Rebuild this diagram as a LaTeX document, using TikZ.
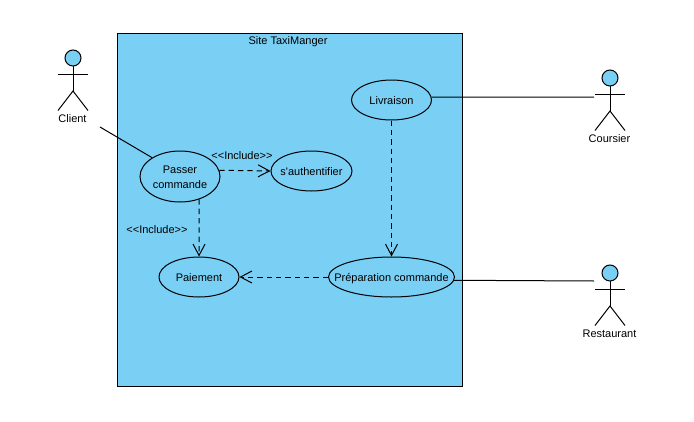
\documentclass[tikz,border=0pt]{standalone}
\usepackage{fontspec}
\setmainfont{Liberation Sans}
\usetikzlibrary{arrows.meta, shapes.geometric}
\definecolor{ucBlue}{RGB}{122,207,245}

\begin{document}
\begin{tikzpicture}[
  x=0.75pt, y=-0.75pt,
  font=\fontsize{8.25pt}{11.25pt}\selectfont,
  line width=0.75pt
]
% -------------------- Styles --------------------
\tikzset{
  usecase/.style={
    draw, ellipse, fill=ucBlue, align=center, inner ysep=0pt, inner xsep=-15pt,
    text height=8pt, text depth=2pt,
    minimum width=60pt, minimum height=30pt
  },
  caption/.style={inner sep=0pt, align=center},
  assoc/.style={line width=0.75pt},
  depend/.style={-{Straight Barb[length=8.5pt,width=9pt,line width=0.75pt]},
    dash pattern=on 4pt off 3pt},
  actor/.pic={
    \draw[fill=ucBlue] (0,-20) circle[radius=8];
    \draw (0,-12) -- (0,13);
    \draw (-15,-4) -- (15,-4);
    \draw (-15,32.5) -- (0,13) -- (15,32.5);
  }
}
\useasboundingbox (0,0) rectangle (694,422);

% -------------------- System --------------------
\node[draw, fill=ucBlue, minimum width=258.75pt, minimum height=264.75pt,
      inner sep=0pt] (site) at (289.5,209.5) {};
\node[caption] (siteName) at (288,41.5) {Site TaxiManger};

% -------------------- Use cases --------------------
\node[usecase, minimum height=38.25pt, text height=18.5pt, text depth=0pt] (passer) at (180,176.5) {Passer\\commande};
\node[usecase, minimum width=60.75pt] (auth) at (311.5,171) {s\textquotesingle authentifier};
\node[usecase] (paiement) at (199,277) {Paiement};
\node[usecase] (livraison) at (391.5,100) {Livraison};
\node[usecase, minimum width=94.5pt] (prep) at (391.5,277) {Préparation commande};

% -------------------- Actors --------------------
\pic at (73,78) {actor};
\node[caption] (client) at (72.5,118.7) {Client};
\pic at (610,98) {actor};
\node[caption] (coursier) at (609.5,138.7) {Coursier};
\pic at (610,293) {actor};
\node[caption] (restaurant) at (609.5,333.7) {Restaurant};

\coordinate (clientEnd) at (100,127);
\coordinate (coursierEnd) at (594,97);
\coordinate (restaurantEnd) at (594,281);

\draw[assoc] (clientEnd) -- (passer.146);
\draw[assoc] (livraison.4.3) -- (coursierEnd);
\draw[assoc] (prep.-3.66) -- (restaurantEnd);

% Include and dependency arrows
\draw[depend] (passer.9) -- (auth.west);
\draw[depend] (passer.-50) -- (paiement.north);
\draw[depend] (prep.west) -- (paiement.east);
\draw[depend] (livraison.south) -- (prep.north);

\node[caption] (includeAuth) at (242,155.7) {<{}<Include>{}>};
\node[caption] (includePay) at (157,229.7) {<{}<Include>{}>};

\end{tikzpicture}
\end{document}
